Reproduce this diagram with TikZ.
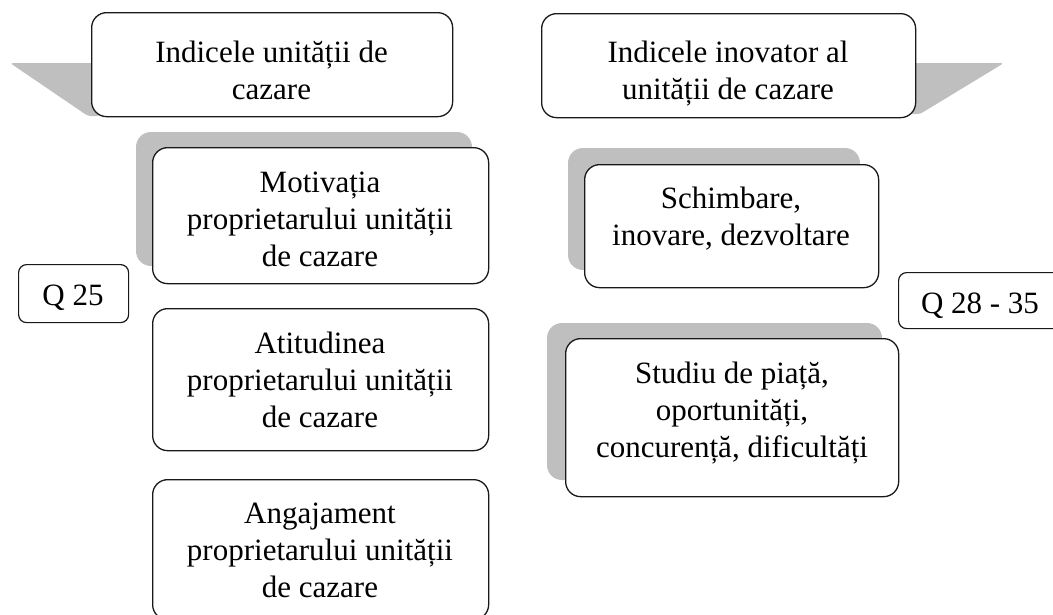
\documentclass[tikz,border=0pt]{standalone}
\usepackage{fontspec}
\setmainfont{Liberation Serif}
\newcommand\fst{\rule{0pt}{25pt}}
\begin{document}
\begin{tikzpicture}[x=1pt,y=-1pt,
  box/.style={draw=black!90, line width=1.3pt, fill=white, rounded corners=15pt, inner sep=0pt, anchor=north west},
  qbox/.style={draw=black!90, line width=1.2pt, fill=white, rounded corners=8pt, inner sep=0pt, anchor=north west},
  shade/.style={fill=black!25, rounded corners=15pt},
  wedge/.style={fill=black!25, rounded corners=3pt},
  txt/.style={align=center, inner sep=0pt, anchor=north, font=\fontsize{31}{37}\selectfont}]
\useasboundingbox (0,0) rectangle (1053,614);
% grey wedges and shadows
\fill[wedge] (100,63) -- (10,63) -- (88,116) -- (100,116) -- cycle;
\fill[wedge] (900,63) -- (1004,63) -- (920,114) -- (900,114) -- cycle;
\fill[shade] (136,132) rectangle (472,266);
\fill[shade] (568,148) rectangle (860,270);
\fill[shade] (547,323) rectangle (882,480);
% boxes
\node[box, minimum width=361pt, minimum height=104pt] (t1) at (91,12) {};
\node[box, minimum width=374pt, minimum height=104pt] (t2) at (541,13) {};
\node[qbox, minimum width=110pt, minimum height=58pt] (q25) at (18,264) {};
\node[box, minimum width=336pt, minimum height=136pt] (mot) at (152,147) {};
\node[box, minimum width=336pt, minimum height=142pt] (att) at (152,308) {};
\node[box, minimum width=336pt, minimum height=140pt] (ang) at (152,479) {};
\node[box, minimum width=294pt, minimum height=123pt] (sch) at (584,164) {};
\node[qbox, minimum width=165pt, minimum height=56pt] (q28) at (898,272) {};
\node[box, minimum width=333pt, minimum height=158pt] (stu) at (565,338) {};
% texts
\node[txt] (t1t) at (271.5,37) {\fst Indicele unității de\\cazare};
\node[txt] (t2t) at (728,37) {\fst Indicele inovator al\\unității de cazare};
\node[txt] (q25t) at (73,280) {\fst Q 25};
\node[txt] (mott) at (320,167) {\fst Motivația\\proprietarului unității\\de cazare};
\node[txt] (attt) at (320,328) {\fst Atitudinea\\proprietarului unității\\de cazare};
\node[txt] (angt) at (320,498) {\fst Angajament\\proprietarului unității\\de cazare};
\node[txt] (scht) at (731,183) {\fst Schimbare,\\inovare, dezvoltare};
\node[txt] (q28t) at (980,288) {\fst Q 28 - 35};
\node[txt] (stut) at (732,358) {\fst Studiu de piață,\\oportunități,\\concurență, dificultăți};
\end{tikzpicture}
\end{document}
